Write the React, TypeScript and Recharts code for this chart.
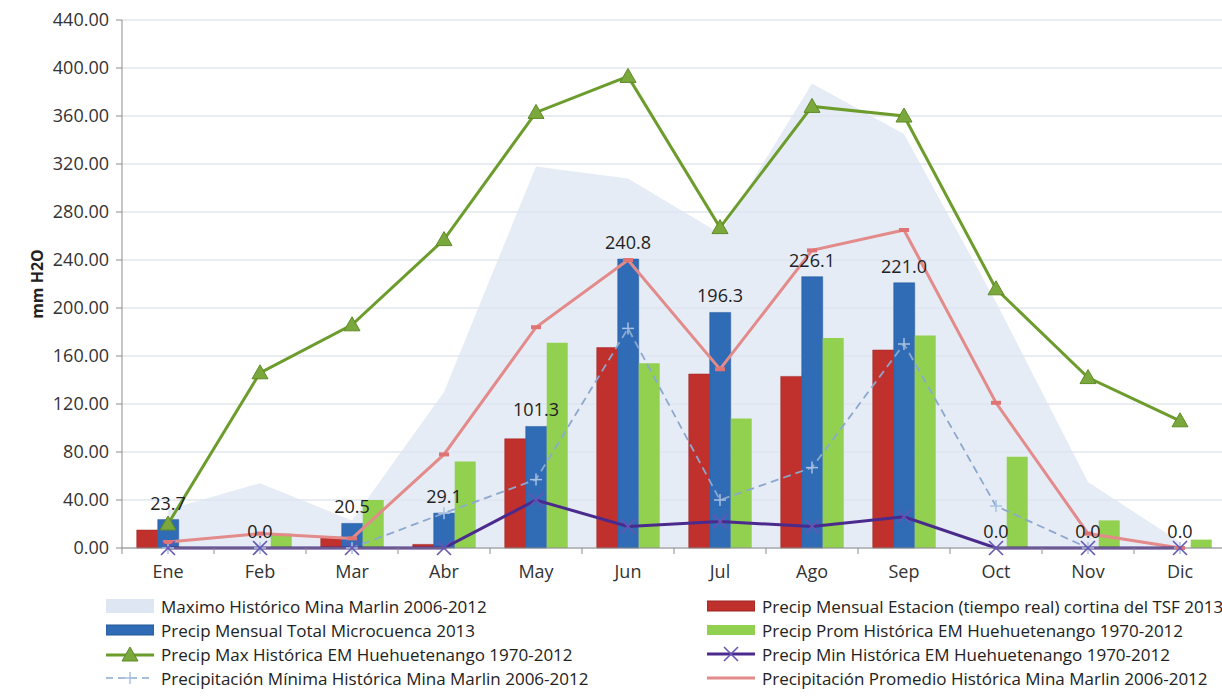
import React from "react";
import {
  Area,
  Bar,
  CartesianGrid,
  ComposedChart,
  LabelList,
  Line,
  XAxis,
  YAxis,
} from "recharts";

const months = ["Ene", "Feb", "Mar", "Abr", "May", "Jun", "Jul", "Ago", "Sep", "Oct", "Nov", "Dic"];
const maxMarlin = [32, 54, 23, 130, 318, 308, 262, 387, 345, 205, 55, 5];
const estacionTsf = [15, 0, 9, 3, 91, 167, 145, 143, 165, 0, 0, 0];
const microcuenca = [23.7, 0, 20.5, 29.1, 101.3, 240.8, 196.3, 226.1, 221.0, 0, 0, 0];
const promHuehue = [1, 12, 40, 72, 171, 154, 108, 175, 177, 76, 23, 7];
const maxHuehue = [20, 146, 186, 257, 363, 393, 267, 368, 360, 216, 142, 106];
const minHuehue = [0, 0, 0, 0, 40, 18, 22, 18, 26, 0, 0, 0];
const minMarlin = [0, 0, 0, 29, 57, 183, 40, 67, 170, 35, 0, 0];
const promMarlin = [5, 12, 8, 78, 184, 240, 149, 248, 265, 121, 12, 0];
const yTicks = [0, 40, 80, 120, 160, 200, 240, 280, 320, 360, 400, 440];

const data = months.map((m, i) => ({
  month: m,
  maxMarlin: maxMarlin[i],
  estacionTsf: estacionTsf[i],
  microcuenca: microcuenca[i],
  promHuehue: promHuehue[i],
  maxHuehue: maxHuehue[i],
  minHuehue: minHuehue[i],
  minMarlin: minMarlin[i],
  promMarlin: promMarlin[i],
}));

const FONT = "'Open Sans', sans-serif";
const C = {
  area: "#dde6f2",
  red: "#c0302c",
  blue: "#2f6cb5",
  green: "#92d050",
  maxLine: "#6c9c2c",
  tri: "#7aa83c",
  purple: "#4a2a8c",
  xMark: "#6656b4",
  dash: "#8ba8cf",
  pink: "#e38a8a",
};

const TriangleDot = (p: any) => {
  const { cx, cy } = p;
  if (cx == null || cy == null) return null;
  return (
    <path
      d={`M${cx},${cy - 8} L${cx + 8},${cy + 6} L${cx - 8},${cy + 6} Z`}
      fill={C.tri}
      stroke="#5f8a26"
      strokeWidth={1}
    />
  );
};

const XDot = (p: any) => {
  const { cx, cy } = p;
  if (cx == null || cy == null) return null;
  return (
    <g stroke={C.xMark} strokeWidth={1.6}>
      <line x1={cx - 7} y1={cy - 7} x2={cx + 7} y2={cy + 7} />
      <line x1={cx - 7} y1={cy + 7} x2={cx + 7} y2={cy - 7} />
    </g>
  );
};

const PlusDot = (p: any) => {
  const { cx, cy } = p;
  if (cx == null || cy == null) return null;
  return (
    <g stroke="#a9c1e2" strokeWidth={1.5}>
      <line x1={cx - 6} y1={cy} x2={cx + 6} y2={cy} />
      <line x1={cx} y1={cy - 6} x2={cx} y2={cy + 6} />
    </g>
  );
};

const DashDot = (p: any) => {
  const { cx, cy } = p;
  if (cx == null || cy == null) return null;
  return <rect x={cx - 5} y={cy - 2} width={10} height={4} fill="#e07474" />;
};

const MonthTick = (p: any) => {
  const { x, y, payload } = p;
  const half = payload?.offset ?? 45.8;
  return (
    <g>
      <line x1={x - half} y1={y - 8} x2={x - half} y2={y - 2} stroke="#8c8c8c" />
      <text x={x} y={y + 22} textAnchor="middle" fill="#333" fontSize={18} fontFamily={FONT}>
        {payload.value}
      </text>
    </g>
  );
};

type LegendItem = { label: string; kind: string };
const legendLeft: LegendItem[] = [
  { label: "Maximo Histórico Mina Marlin 2006-2012", kind: "area" },
  { label: "Precip Mensual Total Microcuenca 2013", kind: "blue" },
  { label: "Precip Max Histórica EM Huehuetenango 1970-2012", kind: "maxLine" },
  { label: "Precipitación Mínima Histórica Mina Marlin 2006-2012", kind: "dash" },
];
const legendRight: LegendItem[] = [
  { label: "Precip Mensual Estacion (tiempo real) cortina del TSF 2013", kind: "red" },
  { label: "Precip Prom Histórica EM Huehuetenango 1970-2012", kind: "green" },
  { label: "Precip Min Histórica EM Huehuetenango 1970-2012", kind: "purple" },
  { label: "Precipitación Promedio Histórica Mina Marlin 2006-2012", kind: "pink" },
];

function Swatch({ kind }: { kind: string }) {
  let inner: React.ReactNode = null;
  if (kind === "area") inner = <rect x={0} y={3} width={48} height={14} fill={C.area} />;
  if (kind === "blue") inner = <rect x={0} y={5} width={48} height={10} fill={C.blue} stroke="#24579a" />;
  if (kind === "red") inner = <rect x={0} y={5} width={48} height={10} fill={C.red} stroke="#9c2522" />;
  if (kind === "green") inner = <rect x={0} y={5} width={48} height={10} fill={C.green} />;
  if (kind === "maxLine")
    inner = (
      <g>
        <line x1={0} y1={11} x2={48} y2={11} stroke={C.maxLine} strokeWidth={3} />
        <TriangleDot cx={24} cy={11} />
      </g>
    );
  if (kind === "purple")
    inner = (
      <g>
        <line x1={0} y1={10} x2={48} y2={10} stroke={C.purple} strokeWidth={3} />
        <XDot cx={24} cy={10} />
      </g>
    );
  if (kind === "dash")
    inner = (
      <g>
        <line x1={0} y1={10} x2={48} y2={10} stroke={C.dash} strokeWidth={1.5} strokeDasharray="7 5" />
        <PlusDot cx={24} cy={10} />
      </g>
    );
  if (kind === "pink") inner = <line x1={0} y1={10} x2={48} y2={10} stroke={C.pink} strokeWidth={3} />;
  return (
    <svg width={48} height={20} style={{ display: "block", marginRight: 7 }}>
      {inner}
    </svg>
  );
}

function LegendColumn({ items, left }: { items: LegendItem[]; left: number }) {
  return (
    <div style={{ position: "absolute", left, top: 594 }}>
      {items.map((it) => (
        <div key={it.label} style={{ display: "flex", alignItems: "center", height: 24 }}>
          <Swatch kind={it.kind} />
          <span style={{ fontFamily: FONT, fontSize: 17, color: "#222", whiteSpace: "nowrap" }}>{it.label}</span>
        </div>
      ))}
    </div>
  );
}

export default function App() {
  return (
    <div style={{ position: "relative", width: 1222, height: 700, overflow: "hidden", background: "#fff" }}>
      <style>{"body{margin:0}"}</style>
      <ComposedChart
        width={1226}
        height={600}
        data={data}
        margin={{ top: 20, right: 0, left: 0, bottom: 0 }}
        barCategoryGap="16%"
        barGap={0}
        style={{ fontFamily: FONT }}
      >
        <CartesianGrid stroke="#d3d9e3" vertical={false} />
        <XAxis
          dataKey="month"
          height={52}
          axisLine={{ stroke: "#8c8c8c" }}
          tickLine={false}
          tick={<MonthTick />}
          interval={0}
        />
        <YAxis
          width={122}
          domain={[0, 440]}
          ticks={yTicks}
          interval={0}
          tickFormatter={(v: number) => v.toFixed(2)}
          axisLine={{ stroke: "#8c8c8c" }}
          tickLine={{ stroke: "#8c8c8c" }}
          tickSize={6}
          tick={{ fill: "#333", fontSize: 18, fontFamily: FONT, dx: -5 }}
          label={{
            value: "mm H2O",
            angle: -90,
            position: "insideLeft",
            offset: 37,
            style: { fontWeight: "bold", fontSize: 16, fill: "#222", textAnchor: "middle", fontFamily: FONT },
          }}
        />
        <Area
          type="linear"
          dataKey="maxMarlin"
          stroke="none"
          fill={C.area}
          fillOpacity={0.75}
          isAnimationActive={false}
          activeDot={false}
        />
        <Bar dataKey="estacionTsf" fill={C.red} stroke="#9c2522" strokeWidth={0.5} isAnimationActive={false} />
        <Bar dataKey="microcuenca" fill={C.blue} stroke="#24579a" strokeWidth={0.5} isAnimationActive={false} />
        <Bar dataKey="promHuehue" fill={C.green} isAnimationActive={false} />
        <Line
          type="linear"
          dataKey="minMarlin"
          stroke={C.dash}
          strokeWidth={1.8}
          strokeDasharray="8 5"
          dot={<PlusDot />}
          activeDot={false}
          isAnimationActive={false}
        />
        <Line
          type="linear"
          dataKey="promMarlin"
          stroke={C.pink}
          strokeWidth={3}
          dot={<DashDot />}
          activeDot={false}
          isAnimationActive={false}
        />
        <Line
          type="linear"
          dataKey="minHuehue"
          stroke={C.purple}
          strokeWidth={3}
          dot={<XDot />}
          activeDot={false}
          isAnimationActive={false}
        />
        <Line
          type="linear"
          dataKey="maxHuehue"
          stroke={C.maxLine}
          strokeWidth={3}
          dot={<TriangleDot />}
          activeDot={false}
          isAnimationActive={false}
        />
        {/* labels of the blue bars, carried by an invisible line so the 0.0 values show too */}
        <Line
          type="linear"
          dataKey="microcuenca"
          stroke="none"
          dot={false}
          activeDot={false}
          isAnimationActive={false}
        >
          <LabelList
            dataKey="microcuenca"
            position="top"
            offset={10}
            formatter={(v: any) => Number(v).toFixed(1)}
            style={{ fill: "#222", fontSize: 18, fontFamily: FONT }}
          />
        </Line>
      </ComposedChart>
      <LegendColumn items={legendLeft} left={106} />
      <LegendColumn items={legendRight} left={707} />
    </div>
  );
}
